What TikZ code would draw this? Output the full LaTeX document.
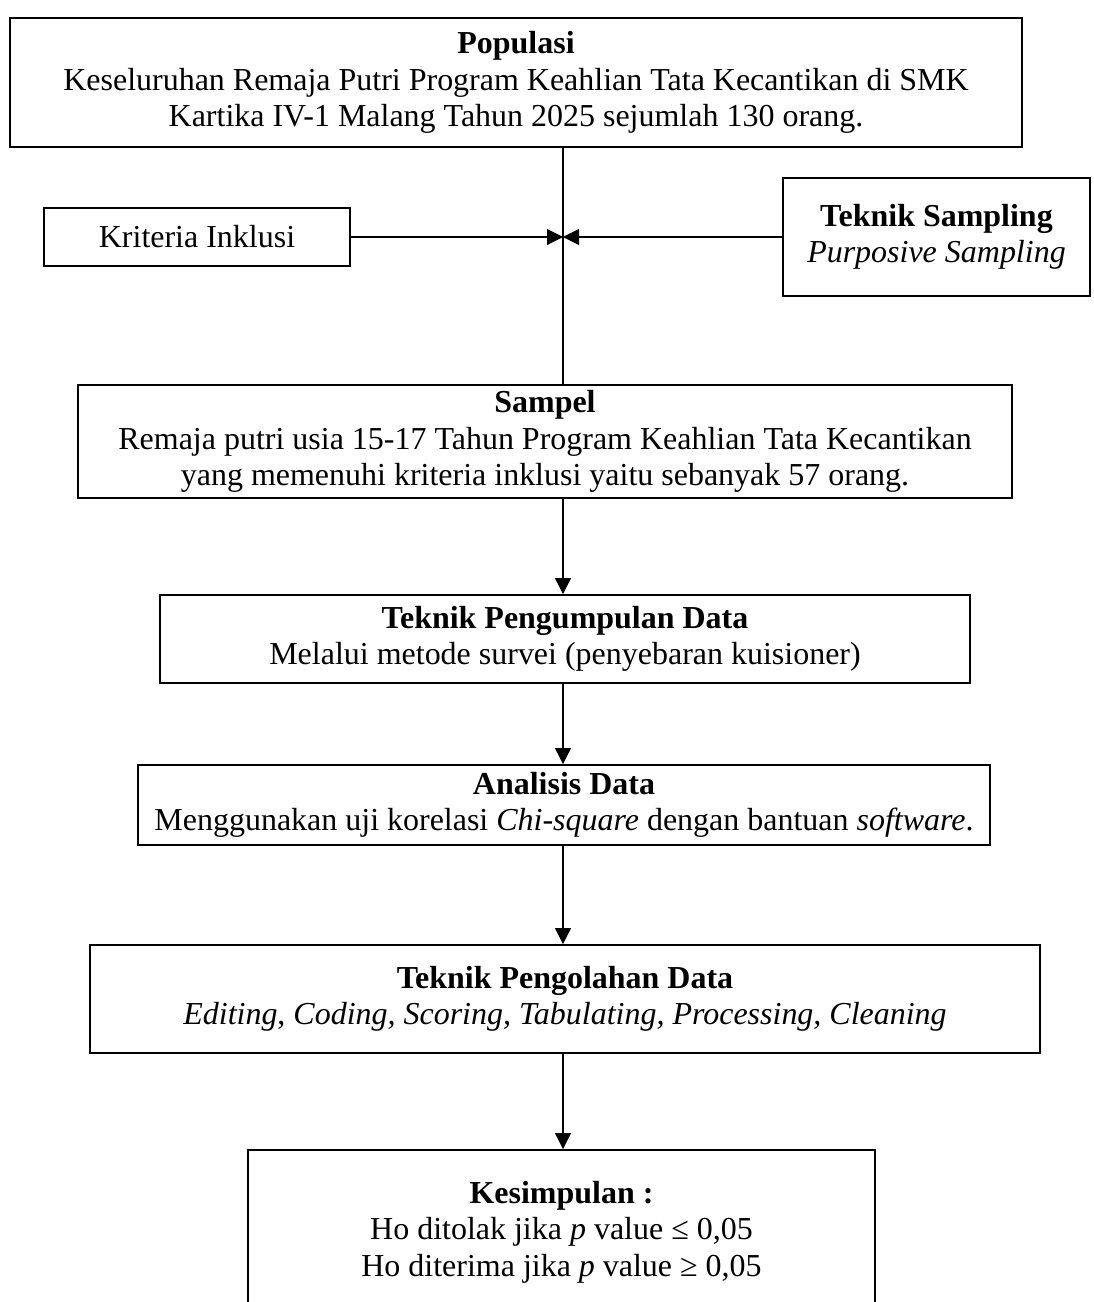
\documentclass[tikz,border=0pt]{standalone}
\usepackage{fontspec}
\setmainfont{Liberation Serif}
\usetikzlibrary{arrows.meta}
\begin{document}
\begin{tikzpicture}[x=0.02cm,y=-0.02cm,
    box/.style={draw,line width=1.1pt,align=center,inner sep=0pt,
      font=\fontsize{18.2}{20.8}\selectfont},
    link/.style={line width=0.6pt,-{Triangle[length=0.32cm,width=0.32cm]}}]
    \useasboundingbox (0,0) rectangle (1094,1302);
    \node [box,minimum width=20.24cm,minimum height=2.58cm] (pop) at (516,82.5)
      {\textbf{Populasi}\\Keseluruhan Remaja Putri Program Keahlian Tata Kecantikan di SMK\\Kartika IV-1 Malang Tahun 2025 sejumlah 130 orang.};
    \node [box,minimum width=6.12cm,minimum height=1.16cm] (krit) at (197,237) {Kriteria Inklusi};
    \node [box,minimum width=6.14cm,minimum height=2.36cm] (tek) at (936.5,237)
      {\textbf{Teknik Sampling}\\\textit{Purposive Sampling}};
    \node [box,minimum width=18.68cm,minimum height=2.26cm] (sampel) at (545,441.5)
      {\textbf{Sampel}\\Remaja putri usia 15-17 Tahun Program Keahlian Tata Kecantikan\\yang memenuhi kriteria inklusi yaitu sebanyak 57 orang.};
    \node [box,minimum width=16.2cm,minimum height=1.76cm] (kumpul) at (565,639)
      {\textbf{Teknik Pengumpulan Data}\\Melalui metode survei (penyebaran kuisioner)};
    \node [box,minimum width=17.04cm,minimum height=1.6cm] (analisis) at (564,805)
      {\textbf{Analisis Data}\\Menggunakan uji korelasi \textit{Chi-square} dengan bantuan \textit{software}.};
    \node [box,minimum width=19cm,minimum height=2.16cm] (olah) at (565,999)
      {\textbf{Teknik Pengolahan Data}\\\textit{Editing}, \textit{Coding, Scoring, Tabulating, Processing, Cleaning}};
    \node [box,minimum width=12.54cm,minimum height=3.28cm] (simpul) at (561.5,1232)
      {\textbf{Kesimpulan :}\\Ho ditolak jika \textit{p} value ≤ 0,05\\Ho diterima jika \textit{p} value ≥ 0,05};
    \coordinate (jn) at (563,237);
    \draw [line width=0.6pt] (pop.south -| jn) -- (sampel.north -| jn);
    \draw [link] (krit) -- (jn);
    \draw [link] (tek) -- (jn);
    \draw [link] (sampel.south -| jn) -- (kumpul.north -| jn);
    \draw [link] (kumpul.south -| jn) -- (analisis.north -| jn);
    \draw [link] (analisis.south -| jn) -- (olah.north -| jn);
    \draw [link] (olah.south -| jn) -- (simpul.north -| jn);
\end{tikzpicture}
\end{document}
